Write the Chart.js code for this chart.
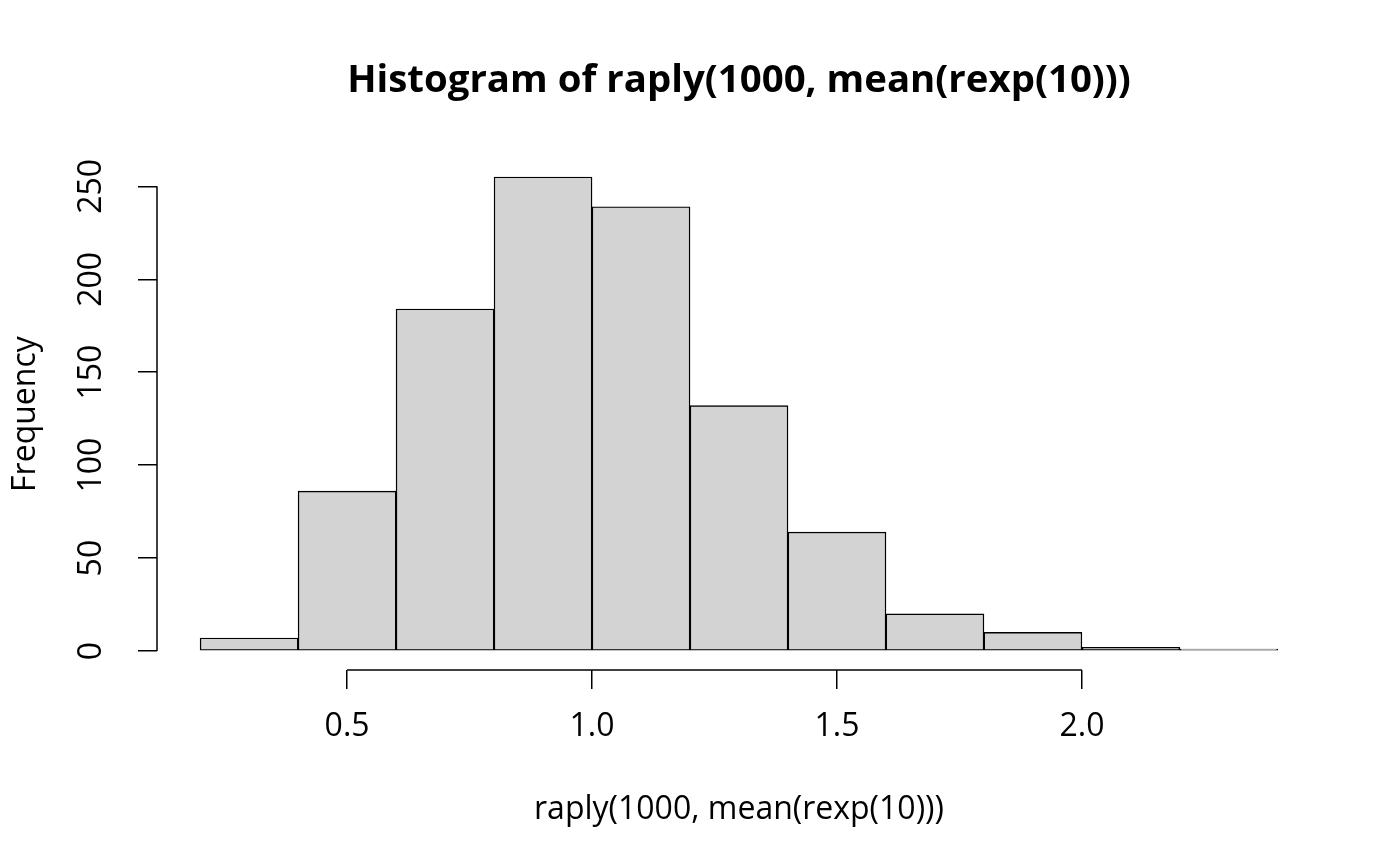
<!DOCTYPE html>
<html>
<head>
<meta charset="utf-8">
<script src="https://cdn.jsdelivr.net/npm/chart.js@4.4.1/dist/chart.umd.min.js"></script>
<style>
  html, body { margin: 0; padding: 0; background: #ffffff; }
  #wrap { width: 1400px; height: 866px; }
</style>
</head>
<body>
<div id="wrap"><canvas id="c" width="1400" height="866"></canvas></div>
<script>
// Histogram bins (left edges, width 0.2) and counts
const binStarts = [0.2, 0.4, 0.6, 0.8, 1.0, 1.2, 1.4, 1.6, 1.8, 2.0, 2.2];
const binWidth = 0.2;
const counts = [7, 86, 184, 255, 239, 132, 64, 20, 10, 2, 1];
const xTicks = [0.5, 1.0, 1.5, 2.0];
const yTicks = [0, 50, 100, 150, 200, 250];
const mainTitle = 'Histogram of raply(1000, mean(rexp(10)))';
const xTitle = 'raply(1000, mean(rexp(10)))';
const yTitle = 'Frequency';

const FONT = "'Open Sans', 'Noto Sans', 'DejaVu Sans', sans-serif";

const points = binStarts.map((s, i) => ({ x: s + binWidth / 2, y: counts[i] }));

// R-style axis lines that span only from first to last tick
const axisLines = {
  id: 'axisLines',
  afterDraw(chart) {
    const ctx = chart.ctx;
    const xs = chart.scales.x, ys = chart.scales.y;
    ctx.save();
    ctx.strokeStyle = '#000';
    ctx.lineWidth = 1.5;
    const yAxisX = chart.chartArea.left;
    ctx.beginPath();
    ctx.moveTo(yAxisX, ys.getPixelForValue(yTicks[0]));
    ctx.lineTo(yAxisX, ys.getPixelForValue(yTicks[yTicks.length - 1]));
    ctx.stroke();
    const xAxisY = chart.chartArea.bottom;
    ctx.beginPath();
    ctx.moveTo(xs.getPixelForValue(xTicks[0]), xAxisY);
    ctx.lineTo(xs.getPixelForValue(xTicks[xTicks.length - 1]), xAxisY);
    ctx.stroke();
    ctx.restore();
  }
};

new Chart(document.getElementById('c'), {
  type: 'bar',
  data: {
    datasets: [{
      data: points,
      backgroundColor: '#D3D3D3',
      borderColor: '#000000',
      borderWidth: 1.4,
      borderSkipped: false,
      barPercentage: 1.0,
      categoryPercentage: 1.0
    }]
  },
  options: {
    responsive: false,
    animation: false,
    devicePixelRatio: 1,
    layout: { padding: { left: 0, right: 79, top: 0, bottom: 0 } },
    plugins: {
      legend: { display: false },
      tooltip: { enabled: false },
      title: {
        display: true,
        text: mainTitle,
        fullSize: false,
        color: '#000',
        font: { family: FONT, size: 38.4, weight: 'bold' },
        padding: { top: 58, bottom: 54 }
      }
    },
    scales: {
      x: {
        type: 'linear',
        offset: false,
        min: 0.112,
        max: 2.488,
        afterBuildTicks(scale) { scale.ticks = xTicks.map(v => ({ value: v })); },
        afterFit(scale) { scale.height = 196; },
        grid: {
          offset: false,
          drawOnChartArea: false,
          drawTicks: true,
          tickLength: 19,
          color: '#000',
          lineWidth: 1.5
        },
        border: { display: false },
        ticks: {
          color: '#000',
          font: { family: FONT, size: 32 },
          padding: 19,
          maxRotation: 0,
          autoSkip: false,
          callback: v => Number(v).toFixed(1)
        },
        title: {
          display: true,
          text: xTitle,
          color: '#000',
          font: { family: FONT, size: 32 },
          padding: { top: 0, bottom: 37 }
        }
      },
      y: {
        type: 'linear',
        min: -10.2,
        max: 265.2,
        afterBuildTicks(scale) { scale.ticks = yTicks.map(v => ({ value: v })); },
        afterFit(scale) { scale.width = 157; },
        grid: {
          drawOnChartArea: false,
          drawTicks: true,
          tickLength: 19,
          color: '#000',
          lineWidth: 1.5
        },
        border: { display: false },
        ticks: {
          color: '#000',
          font: { family: FONT, size: 32 },
          padding: 19,
          minRotation: 90,
          maxRotation: 90,
          crossAlign: 'center',
          autoSkip: false
        },
        title: {
          display: true,
          text: yTitle,
          color: '#000',
          font: { family: FONT, size: 32 },
          padding: { top: 7, bottom: 0 }
        }
      }
    }
  },
  plugins: [axisLines]
});
</script>
</body>
</html>
